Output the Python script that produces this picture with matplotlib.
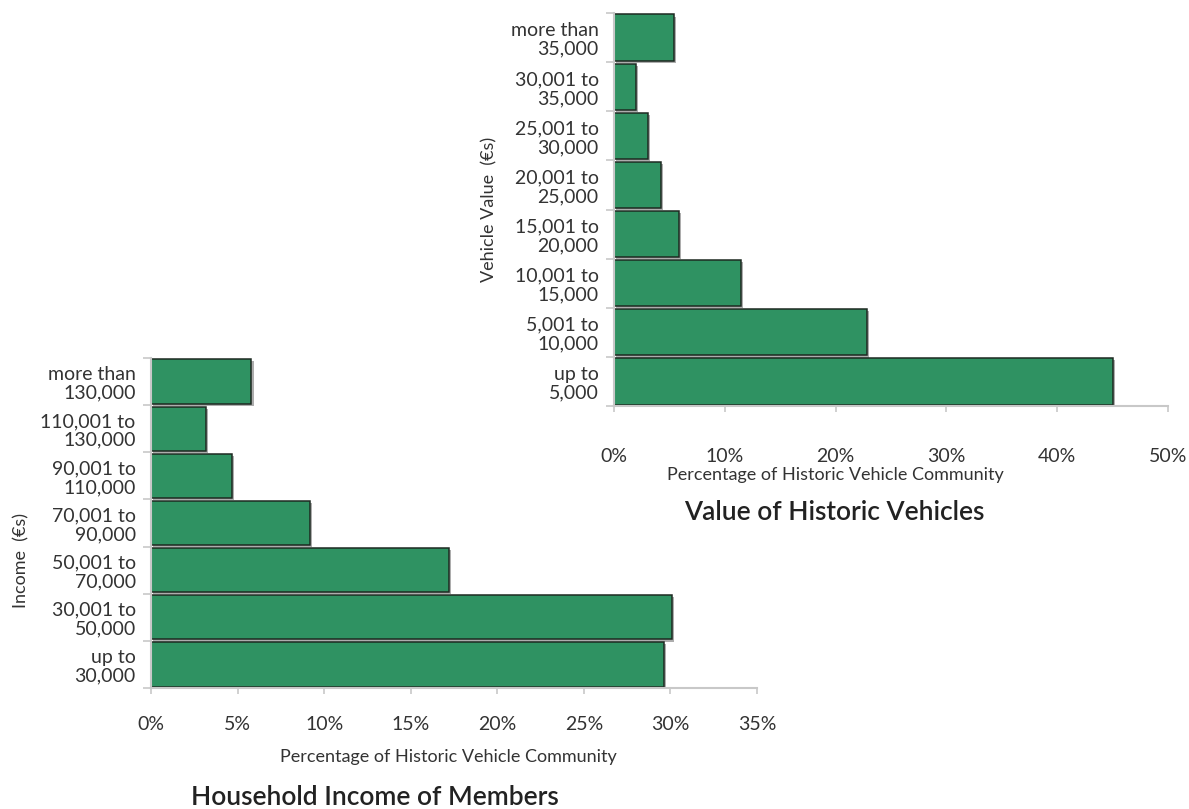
import matplotlib
matplotlib.use("Agg")
import matplotlib.pyplot as plt
import matplotlib.patheffects as pe
from matplotlib.ticker import PercentFormatter, FixedLocator

plt.rcParams['font.family'] = ['Lato', 'DejaVu Sans']

# vehicle value chart (top to bottom as drawn)
vehicle_labels = ["more than\n35,000", "30,001 to\n35,000", "25,001 to\n30,000",
                  "20,001 to\n25,000", "15,001 to\n20,000", "10,001 to\n15,000",
                  "5,001 to\n10,000", "up to\n5,000"]
vehicle_pct = [5.4, 2.0, 3.1, 4.2, 5.9, 11.5, 22.8, 45.0]

# household income chart
income_labels = ["more than\n130,000", "110,001 to\n130,000", "90,001 to\n110,000",
                 "70,001 to\n90,000", "50,001 to\n70,000", "30,001 to\n50,000",
                 "up to\n30,000"]
income_pct = [5.8, 3.2, 4.7, 9.2, 17.2, 30.1, 29.6]

BAR = '#2f9262'
TXT = '#333333'
AXC = '#c8c8c8'

fig = plt.figure(figsize=(11.89, 8.09), dpi=100)


def draw(ax, labels, values, xmax, step, ylabel, tick_pad, xl_pos, yl_pos):
    n = len(labels)
    pos = list(range(n))[::-1]
    ax.patch.set_visible(False)
    bars = ax.barh(pos, values, height=0.94, color=BAR, edgecolor='#1e2a22', linewidth=1.1)
    for b in bars:
        b.set_path_effects([pe.SimplePatchShadow(offset=(1.5, -1.5), shadow_rgbFace='#777777', alpha=0.6),
                            pe.Normal()])
    ax.set_ylim(-0.5, n - 0.5)
    ax.set_xlim(0, xmax)
    ax.set_yticks(pos)
    ax.set_yticklabels(labels, fontsize=14, color=TXT, linespacing=1.12)
    ax.yaxis.set_minor_locator(FixedLocator([i - 0.5 for i in range(n + 1)]))
    ax.tick_params(axis='y', which='major', length=0, pad=11)
    ax.tick_params(axis='y', which='minor', length=6, color=AXC, width=1.2)
    ax.set_xticks([step * i for i in range(int(round(xmax / step)) + 1)])
    ax.xaxis.set_major_formatter(PercentFormatter(decimals=0))
    ax.tick_params(axis='x', length=4, color=AXC, width=1.2, labelsize=14,
                   labelcolor=TXT, pad=tick_pad)
    for s in ['top', 'right']:
        ax.spines[s].set_visible(False)
    for s in ['left', 'bottom']:
        ax.spines[s].set_color(AXC)
        ax.spines[s].set_linewidth(1.5)
    ax.set_xlabel("Percentage of Historic Vehicle Community", fontsize=13, color=TXT)
    ax.xaxis.set_label_coords(*xl_pos)
    ax.set_ylabel(ylabel, fontsize=13, color=TXT)
    ax.yaxis.set_label_coords(*yl_pos)


ax2 = fig.add_axes([0.127, 0.1496, 0.5097, 0.4079])
draw(ax2, income_labels, income_pct, 35, 5, "Income  (\u20acs)", 16,
     (0.49, -0.185), (-0.2, 0.385))

ax1 = fig.add_axes([0.5164, 0.4981, 0.4659, 0.4858])
draw(ax1, vehicle_labels, vehicle_pct, 50, 10, "Vehicle Value  (\u20acs)", 26,
     (0.399, -0.155), (-0.21, 0.5))

fig.text(0.702, 0.366, "Value of Historic Vehicles", fontsize=19, fontweight='semibold',
         color='#222222', ha='center', va='center')
fig.text(0.315, 0.014, "Household Income of Members", fontsize=19, fontweight='semibold',
         color='#222222', ha='center', va='center')

fig.savefig("out.png", dpi=100, facecolor='white')
